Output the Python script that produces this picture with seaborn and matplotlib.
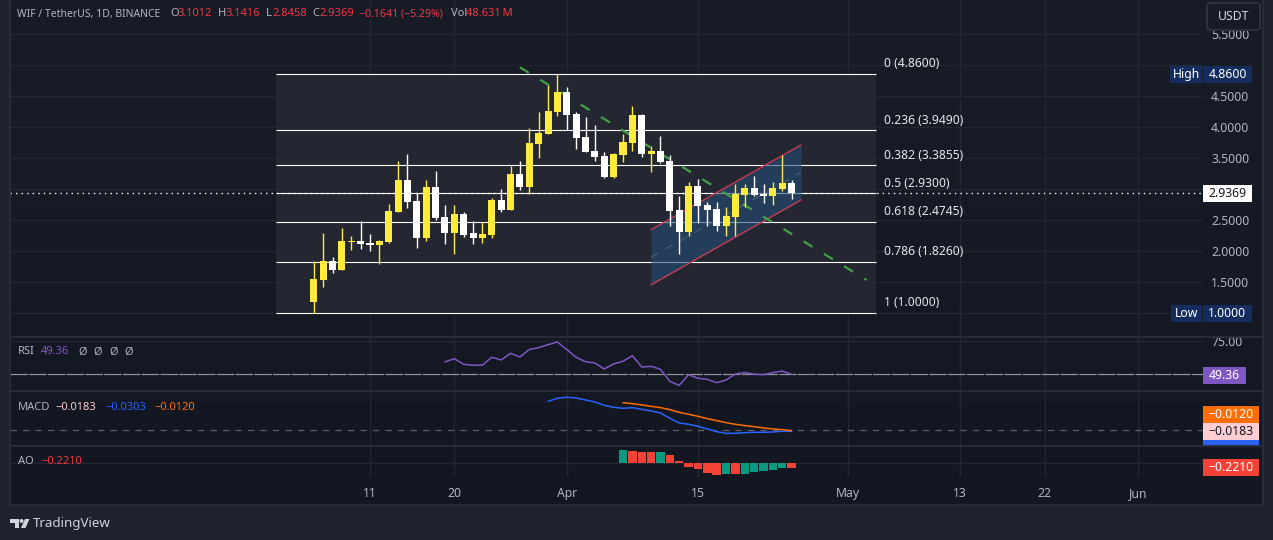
# WIF/USDT daily chart with fib levels, channel, RSI, MACD and AO panes
import numpy as np
import matplotlib
matplotlib.use("Agg")
import matplotlib.pyplot as plt
from matplotlib.patches import Rectangle, FancyBboxPatch, Circle, Polygon
import seaborn as sns

# days counted from 11 March
first_candle_day = -6
opens = [1.177, 1.532, 1.839, 1.694, 2.145, 2.161, 2.129, 2.097, 2.145, 2.629,
         3.145, 2.806, 2.210, 3.032, 2.548, 2.290, 2.597, 2.290, 2.210, 2.258,
         2.823, 2.661, 3.242, 3.032, 3.726, 3.887, 4.242, 4.565, 4.210, 3.839,
         3.613, 3.532, 3.194, 3.548, 3.742, 4.194, 3.565, 3.613, 3.452, 2.661,
         2.306, 3.048, 2.742, 2.677, 2.403, 2.548, 2.903, 3.016, 2.914, 2.887,
         3.000, 3.1012]
highs = [1.839, 2.290, 1.903, 2.371, 2.242, 2.484, 2.274, 2.177, 2.758, 3.452,
         3.565, 2.935, 3.145, 3.290, 2.742, 2.742, 2.629, 2.484, 2.468, 2.855,
         3.000, 3.371, 3.452, 3.984, 4.242, 4.677, 4.860, 4.645, 4.242, 4.161,
         4.032, 3.597, 3.581, 3.887, 4.339, 4.210, 3.694, 3.855, 3.548, 2.887,
         3.113, 3.161, 2.790, 2.790, 2.710, 3.081, 3.081, 3.210, 3.081, 3.113,
         3.548, 3.1416]
lows = [1.000, 1.419, 1.645, 1.694, 2.016, 2.032, 2.000, 1.790, 2.129, 2.629,
        2.694, 2.048, 2.161, 2.500, 2.113, 1.952, 2.226, 2.113, 2.129, 2.210,
        2.629, 2.661, 2.984, 2.919, 3.500, 3.887, 4.177, 3.952, 3.645, 3.597,
        3.452, 3.177, 3.177, 3.435, 3.613, 3.516, 3.274, 3.419, 2.403, 1.952,
        2.242, 2.452, 2.403, 2.323, 2.242, 2.242, 2.710, 2.887, 2.774, 2.742,
        2.968, 2.8458]
closes = [1.548, 1.839, 1.694, 2.161, 2.161, 2.113, 2.097, 2.161, 2.645, 3.145,
          2.790, 2.210, 3.032, 2.532, 2.290, 2.597, 2.258, 2.210, 2.274, 2.823,
          2.661, 3.242, 3.032, 3.742, 3.903, 4.258, 4.565, 4.194, 3.823, 3.597,
          3.516, 3.194, 3.565, 3.758, 4.194, 3.565, 3.613, 3.435, 2.645, 2.306,
          3.048, 2.726, 2.661, 2.403, 2.565, 2.919, 3.016, 2.903, 2.887, 3.016,
          3.097, 2.9369]

fib_ratios = ["0", "0.236", "0.382", "0.5", "0.618", "0.786", "1"]
fib_prices = [4.86, 3.949, 3.3855, 2.93, 2.4745, 1.826, 1.0]
fib_days = [-10, 54]

trend_days = [16, 53]
trend_prices = [4.963, 1.532]
channel_days = [30, 46]
channel_upper = [2.344, 3.71]
channel_lower = [1.456, 2.823]
channel_middle = [1.90, 3.267]

last_price = 2.9369
price_ticks = [1.5, 2.0, 2.5, 3.0, 3.5, 4.0, 4.5, 5.0, 5.5, 1.0]
price_labels = ["1.5000", "2.0000", "2.5000", "", "3.5000", "4.0000", "4.5000", "", "5.5000", ""]

date_ticks = [0, 9, 21, 35, 51, 63, 72, 82]
date_labels = ["11", "20", "Apr", "15", "May", "13", "22", "Jun"]

rsi_first_day = 8
rsi = [59.0, 61.6, 57.15, 56.4, 56.6, 62.65, 60.55, 65.7, 62.9, 68.7, 70.2, 72.5,
       74.6, 68.7, 62.65, 59.25, 58.2, 53.5, 57.45, 59.55, 63.95, 55.05, 55.6, 53.3,
       43.85, 40.7, 49.1, 46.25, 45.4, 42.8, 44.9, 49.6, 50.65, 49.4, 49.1, 50.65,
       51.9, 49.36]

macd_first_day = 19
macd = [0.87, 0.96, 0.99, 0.97, 0.91, 0.85, 0.75, 0.69, 0.66, 0.68, 0.63, 0.58, 0.52,
        0.36, 0.22, 0.18, 0.12, 0.04, -0.04, -0.09, -0.09, -0.07, -0.06, -0.06, -0.05,
        -0.03, -0.0303]
signal_first_day = 27
signal = [0.83, 0.80, 0.76, 0.72, 0.68, 0.62, 0.54, 0.48, 0.42, 0.35, 0.29, 0.23, 0.18,
          0.14, 0.11, 0.07, 0.04, 0.02, -0.012]

ao_first_day = 27
ao = [0.63, 0.585, 0.537, 0.537, 0.537, 0.395, 0.11, -0.174, -0.269, -0.458, -0.553,
      -0.506, -0.506, -0.506, -0.411, -0.363, -0.316, -0.221, -0.221]
ao_state = ["up", "down", "down", "down", "up", "down", "down", "down", "down", "down",
            "down", "up", "down", "up", "up", "up", "up", "up", "down"]

# colours
FRAME = "#1e222d"
GRID = "#23272f"
TEXT = "#b2b5be"
YELLOW = "#ffeb3b"
NAVY = "#152c5e"

W, H = 1273, 540
sns.set_theme(style="dark", rc={"axes.grid": True, "grid.color": GRID, "grid.linewidth": 1.0})
plt.rcParams["font.family"] = ["Noto Sans", "DejaVu Sans"]

fig = plt.figure(figsize=(W / 100, H / 100), dpi=100, facecolor=FRAME)


def pane(top, bottom, right=1203, left=10):
    ax = fig.add_axes([left / W, 1 - bottom / H, (right - left) / W, (bottom - top) / H])
    ax.patch.set_alpha(0)
    for s in ax.spines.values():
        s.set_visible(False)
    return ax


# chart background, slightly lighter at the top
bg = pane(0, 505, right=1263)
bg.imshow(np.linspace(0, 1, 256).reshape(-1, 1), aspect="auto", extent=[0, 1, 0, 1],
          cmap=matplotlib.colors.LinearSegmentedColormap.from_list("bg", ["#181c27", "#131722"]))
bg.set_axis_off()

ax_main = pane(0, 336.5)
ax_rsi = pane(336.5, 391)
ax_macd = pane(391, 446)
ax_ao = pane(446, 477)

# --- main pane ---
days = np.arange(len(opens)) + first_candle_day
opens_a, highs_a, lows_a, closes_a = map(np.array, (opens, highs, lows, closes))
up = closes_a >= opens_a

ax_main.add_patch(Rectangle((fib_days[0], fib_prices[-1]), fib_days[1] - fib_days[0],
                            fib_prices[0] - fib_prices[-1], color="#242732", lw=0, zorder=1.5))
ax_main.axhline(last_price, color="white", lw=1, ls=(0, (1, 3)), zorder=2)
ax_main.hlines(fib_prices, fib_days[0], fib_days[1], color="white", lw=0.8, zorder=2.2)
for ratio, price in zip(fib_ratios, fib_prices):
    ax_main.annotate(f"{ratio} ({price:.4f})", (fib_days[1], price), xytext=(5.8, 7.2),
                     textcoords="offset points", color="#e6e7ea", fontsize=8.7, va="center")

ax_main.fill_between(channel_days, channel_lower, channel_upper, color="#244d78", alpha=0.6, lw=0, zorder=3)
ax_main.plot(channel_days, channel_upper, color="#c63c52", lw=1.0, zorder=3.2)
ax_main.plot(channel_days, channel_lower, color="#c63c52", lw=1.0, zorder=3.2)
ax_main.plot(channel_days, channel_middle, color="#4a5a6e", lw=1, ls=(0, (6, 6)), zorder=3.2)
ax_main.plot(trend_days, trend_prices, color="#43a047", lw=1.6, ls=(0, (4.7, 6)), zorder=4)

ax_main.vlines(days[up], lows_a[up], highs_a[up], color=YELLOW, lw=1, zorder=5)
ax_main.vlines(days[~up], lows_a[~up], highs_a[~up], color="white", lw=1, zorder=5)
sns.barplot(x=days[up], y=(closes_a - opens_a)[up], bottom=opens_a[up], native_scale=True,
            color=YELLOW, saturation=1, width=0.75, errorbar=None, linewidth=0, zorder=6, ax=ax_main)
sns.barplot(x=days[~up], y=(opens_a - closes_a)[~up], bottom=closes_a[~up], native_scale=True,
            color="white", saturation=1, width=0.75, errorbar=None, linewidth=0, zorder=6, ax=ax_main)

ax_main.set_ylim(1 - 23.5 / 62, 1 + 313 / 62)
ax_main.set_yticks(price_ticks, price_labels)

# --- RSI ---
rsi_days = np.arange(len(rsi)) + rsi_first_day
sns.lineplot(x=rsi_days, y=rsi, color="#7e57c2", lw=1.1, errorbar=None, ax=ax_rsi)
ax_rsi.axhline(49.6, color="#8f929b", lw=0.9, ls=(0, (14, 1)), zorder=1.8)
ax_rsi.set_ylim(36.3, 78.9)
ax_rsi.set_yticks([75], ["75.00"])

# --- MACD ---
sns.lineplot(x=np.arange(len(macd)) + macd_first_day, y=macd, color="#2962ff", lw=1.1, errorbar=None, ax=ax_macd)
sns.lineplot(x=np.arange(len(signal)) + signal_first_day, y=signal, color="#ff6d00", lw=1.1, errorbar=None, ax=ax_macd)
ax_macd.axhline(0, color="#5d606b", lw=0.9, ls=(0, (5, 5)), zorder=1.8)
ax_macd.set_ylim(-0.471, 1.179)
ax_macd.set_yticks([])

# --- AO ---
ao_days = np.arange(len(ao)) + ao_first_day
sns.barplot(x=ao_days, y=ao, hue=ao_state, palette={"up": "#089981", "down": "#f44336"},
            native_scale=True, dodge=False, legend=False, saturation=1, width=0.9,
            errorbar=None, linewidth=0, zorder=3, ax=ax_ao)
ax_ao.set_ylim(-0.65, 0.82)
ax_ao.set_yticks([0], [""])

for ax in (ax_main, ax_rsi, ax_macd, ax_ao):
    ax.set_xlim(-38.42, 88.9)
    ax.set_xticks(date_ticks, date_labels if ax is ax_ao else [""] * len(date_ticks))
    ax.yaxis.tick_right()
    ax.tick_params(axis="y", length=0, pad=5.8, labelcolor=TEXT, labelsize=8.8)
    ax.tick_params(axis="x", length=0, pad=7, labelcolor=TEXT, labelsize=8.8)
    ax.set_xlabel("")
    ax.set_ylabel("")
    ax.grid(True, color=GRID, lw=1)
    ax.set_axisbelow(True)
for lab in ax_ao.get_xticklabels():
    if lab.get_text() in ("Apr", "May", "Jun"):
        lab.set_fontweight("bold")

# --- overlay in pixel coordinates: frame lines, legends, price tags ---
ov = fig.add_axes([0, 0, 1, 1], zorder=10)
ov.set_xlim(0, W)
ov.set_ylim(H, 0)
ov.set_axis_off()
ov.patch.set_alpha(0)

for y in (336.5, 391, 446, 505):
    ov.plot([10, 1263], [y, y], color="#2a2e39", lw=1.3)
ov.plot([10, 10], [0, 505], color="#2a2e39", lw=1.3)
ov.plot([1263, 1263], [0, 505], color="#2a2e39", lw=1.3)


def legend(parts, y, size=8.0):
    for x, s, c in parts:
        ov.text(x, y, s, color=c, fontsize=size, va="center", ha="left")


RED = "#f23645"
legend([(17, "WIF / TetherUS, 1D, BINANCE", TEXT)], 14, size=7.5)
legend([(170, "O", TEXT), (178, "3.1012", RED),
        (218, "H", TEXT), (226, "3.1416", RED), (266, "L", TEXT), (272, "2.8458", RED),
        (312, "C", TEXT), (319, "2.9369", RED), (451, "Vol", TEXT), (466, "48.631\u2009M", RED)], 14)
legend([(359, "\u22120.1641 (\u22125.29%)", RED)], 14, size=7.6)
legend([(18, "RSI", TEXT), (41, "49.36", "#7e57c2"), (78, "\u00d8", TEXT), (93, "\u00d8", TEXT),
        (109, "\u00d8", TEXT), (124, "\u00d8", TEXT)], 352)
legend([(18, "MACD", TEXT), (55, "\u22120.0183", "#ffcdd2"), (105, "\u22120.0303", "#2962ff"),
        (154, "\u22120.0120", "#ff6d00")], 407)
legend([(18, "AO", TEXT), (41, "\u22120.2210", "#f23645")], 461.5)


def tag(x0, x1, y0, y1, s, face, fc="white", tx=None):
    ov.add_patch(Rectangle((x0, y0), x1 - x0, y1 - y0, color=face, lw=0))
    ov.text((x0 + x1) / 2 if tx is None else tx, (y0 + y1) / 2, s, color=fc, fontsize=8.8,
            ha="center", va="center", clip_on=True)


# USDT button hides the top of the axis labels
ov.add_patch(Rectangle((1204, 0), 58, 31, color="#171b26", lw=0))
ov.add_patch(FancyBboxPatch((1209, 5), 49, 23, boxstyle="round,pad=2,rounding_size=3",
                            fc="#171b26", ec="#363a45", lw=1))
ov.text(1233.5, 16.5, "USDT", color="#d1d4dc", fontsize=8.8, ha="center", va="center")

tag(1170, 1202, 66, 83, "High", NAVY)
tag(1203, 1252, 66, 83, "4.8600", NAVY)
tag(1203, 1252, 185, 202, "2.9369", "white", fc="#131722")
tag(1171, 1202, 305, 322, "Low", NAVY)
tag(1203, 1252, 305, 322, "1.0000", NAVY)
tag(1203, 1246, 367, 384, "49.36", "#7e57c2")
tag(1203, 1259, 440, 445.5, "", "#2962ff")
tag(1203, 1259, 423, 440, "\u22120.0183", "#ffcdd2", fc="#131722")
tag(1203, 1259, 406, 423, "\u22120.0120", "#ff6d00")
tag(1203, 1259, 459, 476, "\u22120.2210", "#f44336")

# TradingView logo
logo = "#d1d4dc"
ov.add_patch(Polygon([(10, 519), (19, 519), (19, 528), (15, 528), (15, 523), (10, 523)], color=logo, lw=0))
ov.add_patch(Circle((21.5, 521), 2, color=logo, lw=0))
ov.add_patch(Polygon([(25, 519), (29.5, 519), (25.5, 528), (21, 528)], color=logo, lw=0))
ov.text(33, 523, "TradingView", color=logo, fontsize=9.6, va="center", ha="left")

fig.savefig("out.png", dpi=100, facecolor=fig.get_facecolor())
